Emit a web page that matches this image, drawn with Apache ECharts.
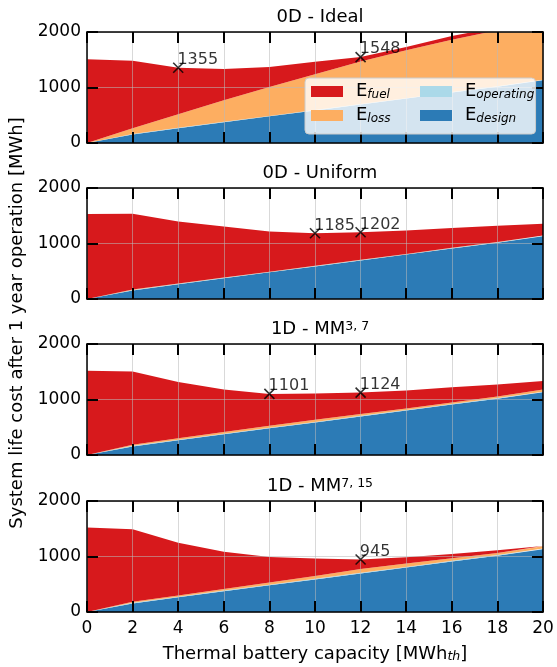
<!DOCTYPE html>
<html>
<head>
<meta charset="utf-8">
<script src="https://cdn.jsdelivr.net/npm/echarts@6/dist/echarts.min.js"></script>
<style>
html,body{margin:0;padding:0;background:#fff;}
#c{width:557px;height:667px;}
</style>
</head>
<body>
<div id="c"></div>
<script>
// ---- data (MWh) ----
const capacity = ['0', '2', '4', '6', '8', '10', '12', '14', '16', '18', '20'];
const yTicks = [0, 1000, 2000];

const designCost = [0, 155, 265, 375, 480, 585, 695, 800, 910, 1015, 1130];

const idealOperating = [0, 8, 8, 8, 8, 8, 8, 8, 8, 8, 8];
const idealLoss = [0, 102, 247, 387, 522, 647, 767, 862, 942, 1007, 1062];
const idealFuel = [1510, 1215, 835, 565, 360, 225, 78, 60, 70, 50, 40];
const idealMarkX = ['4', '12'];
const idealMarkY = [1355, 1548];

const uniformOperating = [0, 8, 8, 8, 8, 8, 8, 8, 8, 8, 8];
const uniformLoss = [0, 6, 5, 5, 5, 5, 5, 5, 5, 5, 5];
const uniformFuel = [1530, 1367, 1120, 920, 725, 587, 494, 423, 355, 292, 213];
const uniformMarkX = ['10', '12'];
const uniformMarkY = [1185, 1202];

const mm37Operating = [0, 10, 10, 10, 10, 10, 10, 10, 10, 10, 10];
const mm37Loss = [0, 20, 25, 30, 35, 40, 35, 30, 25, 30, 40];
const mm37Fuel = [1518, 1321, 1015, 763, 576, 475, 384, 323, 275, 217, 153];
const mm37MarkX = ['8', '12'];
const mm37MarkY = [1101, 1124];

const mm715Operating = [0, 12, 12, 12, 12, 12, 12, 12, 12, 12, 12];
const mm715Loss = [0, 18, 20, 26, 38, 53, 68, 61, 48, 38, 43];
const mm715Fuel = [1524, 1307, 953, 672, 460, 312, 170, 112, 75, 47, 5];
const mm715MarkX = ['12'];
const mm715MarkY = [945];

const panelTitles = ['0D - Ideal', '0D - Uniform', '{t|1D - MM}{p|3, 7}', '{t|1D - MM}{p|7, 15}'];

// ---- chart ----
const FONT = 'DejaVu Sans';
const COLORS = { fuel: '#d7191c', loss: '#fdae61', operating: '#abd9e9', design: '#2c7bb6' };

const panels = [
  { op: idealOperating, loss: idealLoss, fuel: idealFuel, mx: idealMarkX, my: idealMarkY },
  { op: uniformOperating, loss: uniformLoss, fuel: uniformFuel, mx: uniformMarkX, my: uniformMarkY },
  { op: mm37Operating, loss: mm37Loss, fuel: mm37Fuel, mx: mm37MarkX, my: mm37MarkY },
  { op: mm715Operating, loss: mm715Loss, fuel: mm715Fuel, mx: mm715MarkX, my: mm715MarkY }
];

const gridTops = [32, 188, 344, 501];
const gridLeft = 87, gridW = 456, gridH = 111;

const grids = [], xAxes = [], yAxes = [], series = [], titles = [];

const axisLineStyle = { color: '#000', width: 1.5 };
const tickStyle = { color: '#000', width: 2 };
const splitStyle = { color: 'rgba(185,185,185,0.55)', width: 1 };

panels.forEach((p, i) => {
  grids.push({ left: gridLeft, top: gridTops[i], width: gridW, height: gridH, containLabel: false });
  titles.push({
    text: panelTitles[i],
    left: gridLeft + gridW / 2,
    textAlign: 'center',
    top: gridTops[i] - 29,
    textStyle: {
      fontFamily: FONT, fontSize: 18, fontWeight: 'normal', color: '#000',
      rich: {
        t: { fontFamily: FONT, fontSize: 18, color: '#000', verticalAlign: 'bottom' },
        p: { fontFamily: FONT, fontSize: 12.5, color: '#000', verticalAlign: 'top' }
      }
    }
  });
  const baseX = {
    type: 'category', gridIndex: i, data: capacity, boundaryGap: false, z: 5,
    axisLine: { show: true, onZero: false, lineStyle: axisLineStyle },
    axisTick: { show: true, inside: true, length: 11, interval: 0, lineStyle: tickStyle }
  };
  xAxes.push(Object.assign({}, baseX, {
    position: 'bottom',
    axisLabel: { show: i === 3, interval: 0, margin: 8, fontFamily: FONT, fontSize: 17, color: '#000' },
    splitLine: { show: true, interval: 0, lineStyle: splitStyle },
    name: i === 3 ? 'Thermal battery capacity [MWh{s|th}]' : '',
    nameLocation: 'middle', nameGap: 33,
    nameTextStyle: {
      fontFamily: FONT, fontSize: 18, color: '#000',
      rich: { s: { fontFamily: FONT, fontSize: 12.5, fontStyle: 'italic', color: '#000', verticalAlign: 'bottom' } }
    }
  }));
  xAxes.push(Object.assign({}, baseX, {
    position: 'top', axisLabel: { show: false }, splitLine: { show: false }
  }));
  const baseY = {
    type: 'value', gridIndex: i, min: yTicks[0], max: yTicks[yTicks.length - 1], interval: 1000, z: 5,
    axisLine: { show: true, onZero: false, lineStyle: axisLineStyle },
    axisTick: { show: true, inside: true, length: 11, lineStyle: tickStyle }
  };
  yAxes.push(Object.assign({}, baseY, {
    position: 'left',
    axisLabel: { show: true, margin: 6, fontFamily: FONT, fontSize: 17, color: '#000', formatter: v => String(v) },
    splitLine: { show: true, lineStyle: splitStyle }
  }));
  yAxes.push(Object.assign({}, baseY, {
    position: 'right', axisLabel: { show: false }, splitLine: { show: false }
  }));

  const xi = i * 2, yi = i * 2;
  const layers = [
    ['design', designCost], ['operating', p.op], ['loss', p.loss], ['fuel', p.fuel]
  ];
  layers.forEach(([name, arr]) => {
    series.push({
      type: 'line', name: name, xAxisIndex: xi, yAxisIndex: yi, stack: 'p' + i,
      data: arr, symbol: 'none', smooth: false, clip: true,
      lineStyle: { width: 0, color: COLORS[name] },
      itemStyle: { color: COLORS[name] },
      areaStyle: { color: COLORS[name], opacity: 1 },
      z: 2, silent: true
    });
  });
  series.push({
    type: 'scatter', name: 'marker' + i, xAxisIndex: xi, yAxisIndex: yi,
    data: p.mx.map((x, k) => [x, p.my[k]]),
    symbol: 'path://M0,0L10,10M10,0L0,10', symbolSize: 10,
    itemStyle: { color: '#000', borderColor: '#000', borderWidth: 1.6 },
    label: {
      show: true, position: [5, -10], formatter: d => String(d.value[1]),
      fontFamily: FONT, fontSize: 16, color: '#000'
    },
    z: 8, silent: true
  });
});

const legendRich = {
  e: { fontFamily: FONT, fontSize: 18, color: '#000', verticalAlign: 'bottom', padding: [0, 0, 1, 8] },
  s: { fontFamily: FONT, fontSize: 12, fontStyle: 'italic', color: '#000', verticalAlign: 'bottom' }
};
const legendFmt = name => '{e|E}{s|' + name + '}';

const option = {
  animation: false,
  backgroundColor: '#fff',
  title: titles,
  grid: grids,
  xAxis: xAxes,
  yAxis: yAxes,
  legend: [
    {
      data: ['fuel', 'loss'], orient: 'vertical', left: 305, top: 78,
      itemWidth: 32, itemHeight: 11, itemGap: 5, icon: 'rect',
      padding: [4, 145, 9, 6],
      backgroundColor: 'rgba(255,255,255,0.8)', borderColor: '#cccccc', borderWidth: 1, borderRadius: 4,
      formatter: legendFmt, textStyle: { rich: legendRich }, selectedMode: false, z: 9
    },
    {
      data: ['operating', 'design'], orient: 'vertical', left: 414, top: 78,
      itemWidth: 32, itemHeight: 11, itemGap: 5, icon: 'rect',
      padding: [4, 6, 9, 6],
      formatter: legendFmt, textStyle: { rich: legendRich }, selectedMode: false, z: 10
    }
  ],
  graphic: [{
    type: 'text', x: 17, y: 323, rotation: Math.PI / 2,
    style: {
      text: 'System life cost after 1 year operation [MWh]',
      font: '18px "DejaVu Sans"', fill: '#000', align: 'center', verticalAlign: 'middle'
    }
  }],
  series: series
};

const chart = echarts.init(document.getElementById('c'), null, { renderer: 'canvas' });
chart.setOption(option);
</script>
</body>
</html>
